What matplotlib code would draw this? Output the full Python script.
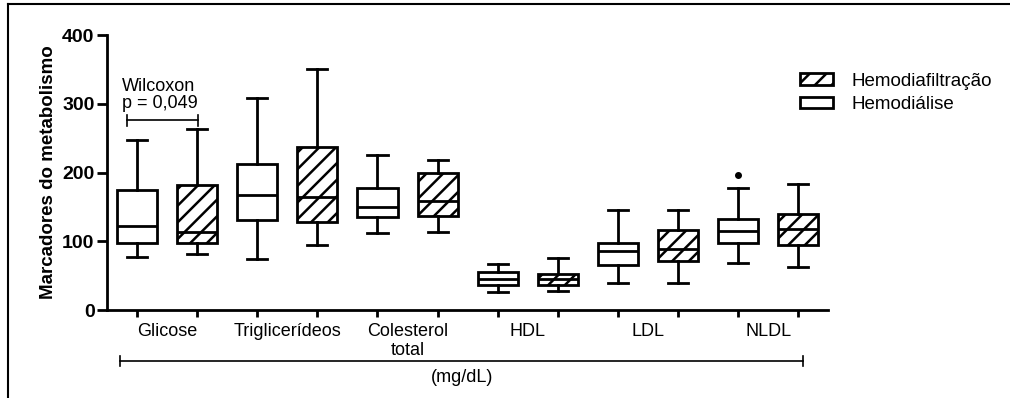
import matplotlib.pyplot as plt
import matplotlib.lines as mlines
from matplotlib.patches import Patch

plt.rcParams['font.family'] = ['Liberation Sans', 'DejaVu Sans']
plt.rcParams['hatch.linewidth'] = 1.8

categories = ['Glicose', 'Triglicerídeos', 'Colesterol\ntotal', 'HDL', 'LDL', 'NLDL']

# values: whisker low, q1, median, q3, whisker high
hd_low = [77, 74, 112, 26, 39, 69]
hd_q1 = [97, 131, 136, 36, 65, 97]
hd_med = [122, 167, 150, 45, 86, 115]
hd_q3 = [175, 212, 178, 55, 98, 133]
hd_high = [247, 309, 225, 67, 145, 177]
hd_out = [[], [], [], [], [], [197]]

hdf_low = [82, 94, 114, 28, 39, 63]
hdf_q1 = [97, 128, 137, 37, 72, 95]
hdf_med = [113, 164, 159, 45, 89, 118]
hdf_q3 = [182, 237, 200, 53, 116, 139]
hdf_high = [264, 351, 218, 75, 145, 183]
hdf_out = [[], [], [], [], [], []]


def stats(low, q1, med, q3, high, out):
    return [dict(whislo=a, q1=b, med=c, q3=d, whishi=e, fliers=f)
            for a, b, c, d, e, f in zip(low, q1, med, q3, high, out)]


fig = plt.figure(figsize=(10.1, 3.98), dpi=100)
ax = fig.add_axes([0.106, 0.221, 0.714, 0.691])

lw = 2
n = len(categories)
pos_hd = [2 * i + 1 for i in range(n)]
pos_hdf = [2 * i + 2 for i in range(n)]

common = dict(widths=0.667, patch_artist=True, showfliers=True,
              boxprops=dict(facecolor='white', edgecolor='black', linewidth=lw),
              medianprops=dict(color='black', linewidth=lw),
              whiskerprops=dict(color='black', linewidth=lw),
              capprops=dict(color='black', linewidth=lw),
              flierprops=dict(marker='o', markerfacecolor='black',
                              markeredgecolor='black', markersize=4))

ax.bxp(stats(hd_low, hd_q1, hd_med, hd_q3, hd_high, hd_out), positions=pos_hd, **common)
b2 = ax.bxp(stats(hdf_low, hdf_q1, hdf_med, hdf_q3, hdf_high, hdf_out), positions=pos_hdf, **common)
for box in b2['boxes']:
    box.set_hatch('//')

ax.set_xlim(0.5, 12.5)
ax.set_ylim(0, 400)
ax.set_yticks([0, 100, 200, 300, 400])
ax.set_xticks(pos_hd + pos_hdf)
ax.set_xticklabels([])
ax.set_xticks([p + 0.5 for p in pos_hd], minor=True)
ax.set_xticklabels(categories, minor=True, fontsize=13)
ax.tick_params(axis='x', which='minor', length=0, pad=9)
ax.tick_params(axis='x', which='major', length=5, width=lw)
ax.tick_params(axis='y', length=7, width=lw, pad=2)
for lab in ax.get_yticklabels():
    lab.set_fontweight('bold')
    lab.set_fontsize(14)

for s in ['top', 'right']:
    ax.spines[s].set_visible(False)
for s in ['left', 'bottom']:
    ax.spines[s].set_linewidth(lw)

ax.set_ylabel('Marcadores do metabolismo', fontsize=13.5, fontweight='bold', labelpad=4)

# Wilcoxon bracket
ax.plot([0.83, 2.02], [276, 276], color='black', lw=1.2)
ax.plot([0.83, 0.83], [268, 284], color='black', lw=1.2)
ax.plot([2.02, 2.02], [268, 284], color='black', lw=1.2)
ax.text(0.75, 325, 'Wilcoxon', fontsize=13, va='center', ha='left')
ax.text(0.75, 300, 'p = 0,049', fontsize=13, va='center', ha='left')

# bottom unit bracket
yb = -74
ax.plot([0.72, 12.08], [yb, yb], color='black', lw=1.2, clip_on=False)
ax.plot([0.72, 0.72], [yb - 7, yb + 7], color='black', lw=1.2, clip_on=False)
ax.plot([12.08, 12.08], [yb - 7, yb + 7], color='black', lw=1.2, clip_on=False)
ax.text(6.4, -98, '(mg/dL)', fontsize=13, ha='center', va='center')

handles = [Patch(facecolor='white', edgecolor='black', hatch='//', linewidth=lw),
           Patch(facecolor='white', edgecolor='black', linewidth=lw)]
fig.legend(handles, ['Hemodiafiltração', 'Hemodiálise'], loc='center left',
           bbox_to_anchor=(800 / 1010, 1 - 93 / 398), frameon=False, fontsize=13.5,
           handlelength=1.75, handleheight=0.55, handletextpad=1.0,
           labelspacing=0.35, borderpad=0, borderaxespad=0)

# figure frame (top and left edges)
fig.add_artist(mlines.Line2D([8 / 1010, 1], [1 - 4 / 398, 1 - 4 / 398], color='black', lw=1.5))
fig.add_artist(mlines.Line2D([8 / 1010, 8 / 1010], [0, 1 - 4 / 398], color='black', lw=1.5))

fig.savefig('out.png', dpi=100)
